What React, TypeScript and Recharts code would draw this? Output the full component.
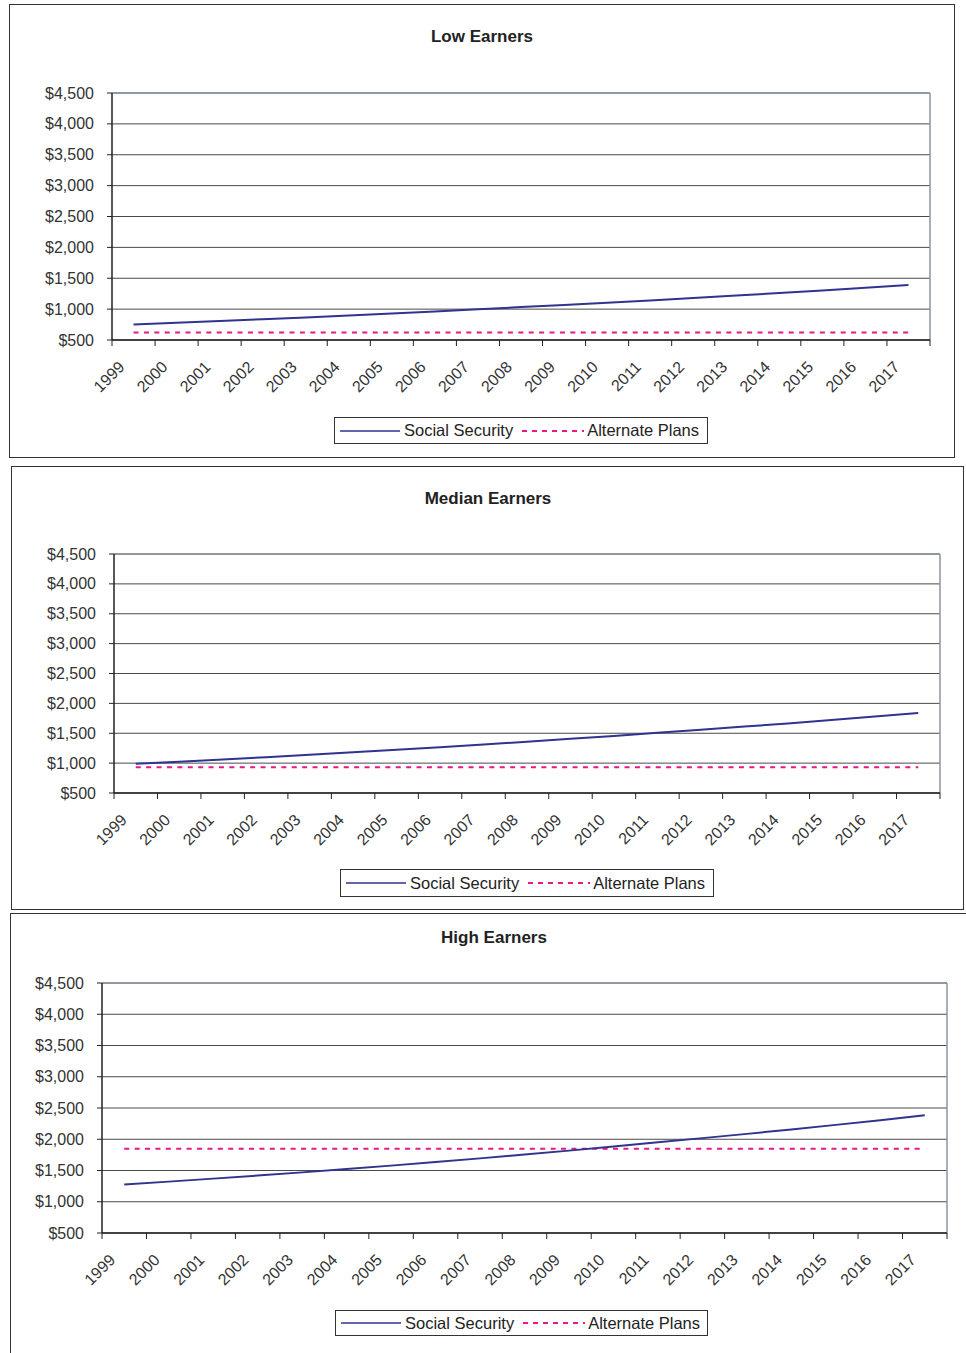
import { LineChart, Line, XAxis, YAxis, CartesianGrid, Legend } from 'recharts';

const years = [
  '1999', '2000', '2001', '2002', '2003', '2004', '2005', '2006', '2007', '2008',
  '2009', '2010', '2011', '2012', '2013', '2014', '2015', '2016', '2017',
];
const yTicks = [500, 1000, 1500, 2000, 2500, 3000, 3500, 4000, 4500];

// monthly benefit
const lowSocialSecurity = [752, 779, 807, 836, 866, 897, 929, 963, 998, 1033, 1068, 1104, 1141, 1179, 1219, 1260, 1302, 1346, 1392];
const lowAlternate = 620;
const medianSocialSecurity = [990, 1025, 1062, 1100, 1139, 1180, 1222, 1266, 1311, 1358, 1406, 1456, 1508, 1559, 1611, 1665, 1721, 1779, 1840];
const medianAlternate = 930;
const highSocialSecurity = [1276, 1322, 1370, 1419, 1470, 1523, 1578, 1635, 1694, 1755, 1818, 1883, 1951, 2018, 2086, 2157, 2230, 2305, 2383];
const highAlternate = 1850;

const FONT = '"Liberation Sans", Arial, sans-serif';
const SS_COLOR = '#30338f';
const ALT_COLOR = '#e8178a';
const GRID_COLOR = '#4a4a4a';
const BORDER_COLOR = '#8c959e';
const TICK_FONT = 16;

const buildRows = (ss: number[], alt: number) =>
  years.map((year, idx) => ({ idx, year, socialSecurity: ss[idx], alternate: alt }));

const money = (v: number) => '$' + v.toLocaleString('en-US');

interface PanelProps {
  title: string;
  rows: { idx: number; year: string; socialSecurity: number; alternate: number }[];
  left: number;
  top: number;
  width: number;
  height: number;
  plot: { left: number; top: number; right: number; bottom: number };
  titleX: number;
  titleY: number;
  legend: { left: number; top: number; width: number; height: number };
}

function LegendBox() {
  return (
    <div
      style={{
        boxSizing: 'border-box',
        width: '100%',
        height: '100%',
        border: '1px solid #333',
        background: '#fff',
        display: 'flex',
        alignItems: 'center',
        fontFamily: FONT,
        fontSize: 16.5,
        color: '#222',
        paddingLeft: 5,
        whiteSpace: 'nowrap',
      }}
    >
      <svg width={60} height={10} style={{ marginRight: 4 }}>
        <line x1={0} x2={60} y1={5} y2={5} stroke={SS_COLOR} strokeWidth={1.5} />
      </svg>
      <span>Social Security</span>
      <svg width={62} height={10} style={{ marginLeft: 9, marginRight: 3 }}>
        <line x1={0} x2={62} y1={5} y2={5} stroke={ALT_COLOR} strokeWidth={2} strokeDasharray="5 5" />
      </svg>
      <span>Alternate Plans</span>
    </div>
  );
}

function MoneyTick(props: any) {
  const { x, y, payload } = props;
  return (
    <text x={x} y={y} dy={5.5} textAnchor="end" fontSize={TICK_FONT} fontFamily={FONT} fill="#333">
      {money(payload.value)}
    </text>
  );
}

function Panel({ title, rows, left, top, width, height, plot, titleX, titleY, legend }: PanelProps) {
  const yAxisWidth = plot.left;
  const xAxisHeight = 60;
  const plotWidth = width - plot.left - plot.right;
  const band = plotWidth / years.length;
  const lastIdx = years.length - 1;

  const YearTick = (props: any) => {
    const { x, y, payload } = props;
    const idx = payload.value as number;
    const ax = x - 8;
    const ay = y + 28;
    return (
      <g>
        <line x1={x - band / 2} x2={x - band / 2} y1={y} y2={y + 6} stroke="#222" strokeWidth={1} />
        {idx === lastIdx && (
          <line x1={x + band / 2} x2={x + band / 2} y1={y} y2={y + 6} stroke="#222" strokeWidth={1} />
        )}
        <text
          x={ax}
          y={ay}
          textAnchor="end"
          transform={`rotate(-45, ${ax}, ${ay})`}
          fontSize={TICK_FONT}
          fontFamily={FONT}
          fill="#333"
        >
          {years[idx]}
        </text>
      </g>
    );
  };

  return (
    <div style={{ position: 'absolute', left, top, width, height }}>
      <LineChart
        width={width}
        height={height}
        data={rows}
        margin={{ top: plot.top, right: plot.right, left: 0, bottom: plot.bottom - xAxisHeight }}
        style={{ fontFamily: FONT }}
      >
        <CartesianGrid stroke={GRID_COLOR} vertical={false} />
        <CartesianGrid
          stroke={BORDER_COLOR}
          strokeWidth={1.5}
          horizontalCoordinatesGenerator={({ offset }: any) => [offset.top]}
          verticalCoordinatesGenerator={({ offset }: any) => [offset.left + offset.width]}
        />
        <XAxis
          dataKey="idx"
          type="number"
          domain={[-0.5, lastIdx + 0.5]}
          ticks={rows.map((r) => r.idx)}
          interval={0}
          height={xAxisHeight}
          tickSize={0}
          tickMargin={0}
          tickLine={false}
          axisLine={{ stroke: '#222', strokeWidth: 1.5 }}
          tick={<YearTick />}
        />
        <YAxis
          domain={[500, 4500]}
          ticks={yTicks}
          interval={0}
          width={yAxisWidth}
          tickSize={5}
          tickMargin={13}
          axisLine={{ stroke: '#222', strokeWidth: 1.5 }}
          tickLine={{ stroke: '#222' }}
          tick={<MoneyTick />}
        />
        <Legend
          layout="horizontal"
          verticalAlign="middle"
          align="center"
          wrapperStyle={{
            position: 'absolute',
            left: legend.left,
            top: legend.top,
            width: legend.width,
            height: legend.height,
            margin: 0,
          }}
          content={() => <LegendBox />}
        />
        <Line
          dataKey="alternate"
          name="Alternate Plans"
          stroke={ALT_COLOR}
          strokeWidth={2}
          strokeDasharray="5 5.4"
          dot={false}
          isAnimationActive={false}
        />
        <Line
          dataKey="socialSecurity"
          name="Social Security"
          stroke={SS_COLOR}
          strokeWidth={2}
          dot={false}
          isAnimationActive={false}
        />
      </LineChart>
      <div
        style={{
          position: 'absolute',
          left: titleX - 150,
          top: titleY - 11,
          width: 300,
          textAlign: 'center',
          fontFamily: FONT,
          fontWeight: 'bold',
          fontSize: 17,
          lineHeight: '22px',
          color: '#222',
        }}
      >
        {title}
      </div>
      <div
        style={{
          position: 'absolute',
          inset: 0,
          border: '1.5px solid #333',
          pointerEvents: 'none',
        }}
      />
    </div>
  );
}

export default function App() {
  return (
    <div
      style={{
        position: 'absolute',
        left: 0,
        top: 0,
        width: 966,
        height: 1353,
        overflow: 'hidden',
        background: '#fff',
      }}
    >
      <Panel
        title="Low Earners"
        rows={buildRows(lowSocialSecurity, lowAlternate)}
        left={9}
        top={4}
        width={946}
        height={454}
        plot={{ left: 103, top: 89, right: 25, bottom: 118 }}
        titleX={473}
        titleY={33}
        legend={{ left: 325, top: 413, width: 374, height: 27 }}
      />
      <Panel
        title="Median Earners"
        rows={buildRows(medianSocialSecurity, medianAlternate)}
        left={11}
        top={466}
        width={953}
        height={444}
        plot={{ left: 103, top: 88, right: 24, bottom: 117 }}
        titleX={477}
        titleY={33}
        legend={{ left: 329, top: 403, width: 374, height: 28 }}
      />
      <Panel
        title="High Earners"
        rows={buildRows(highSocialSecurity, highAlternate)}
        left={10}
        top={913}
        width={962}
        height={450}
        plot={{ left: 92, top: 70, right: 25, bottom: 130 }}
        titleX={484}
        titleY={25}
        legend={{ left: 325, top: 397, width: 373, height: 26 }}
      />
    </div>
  );
}
